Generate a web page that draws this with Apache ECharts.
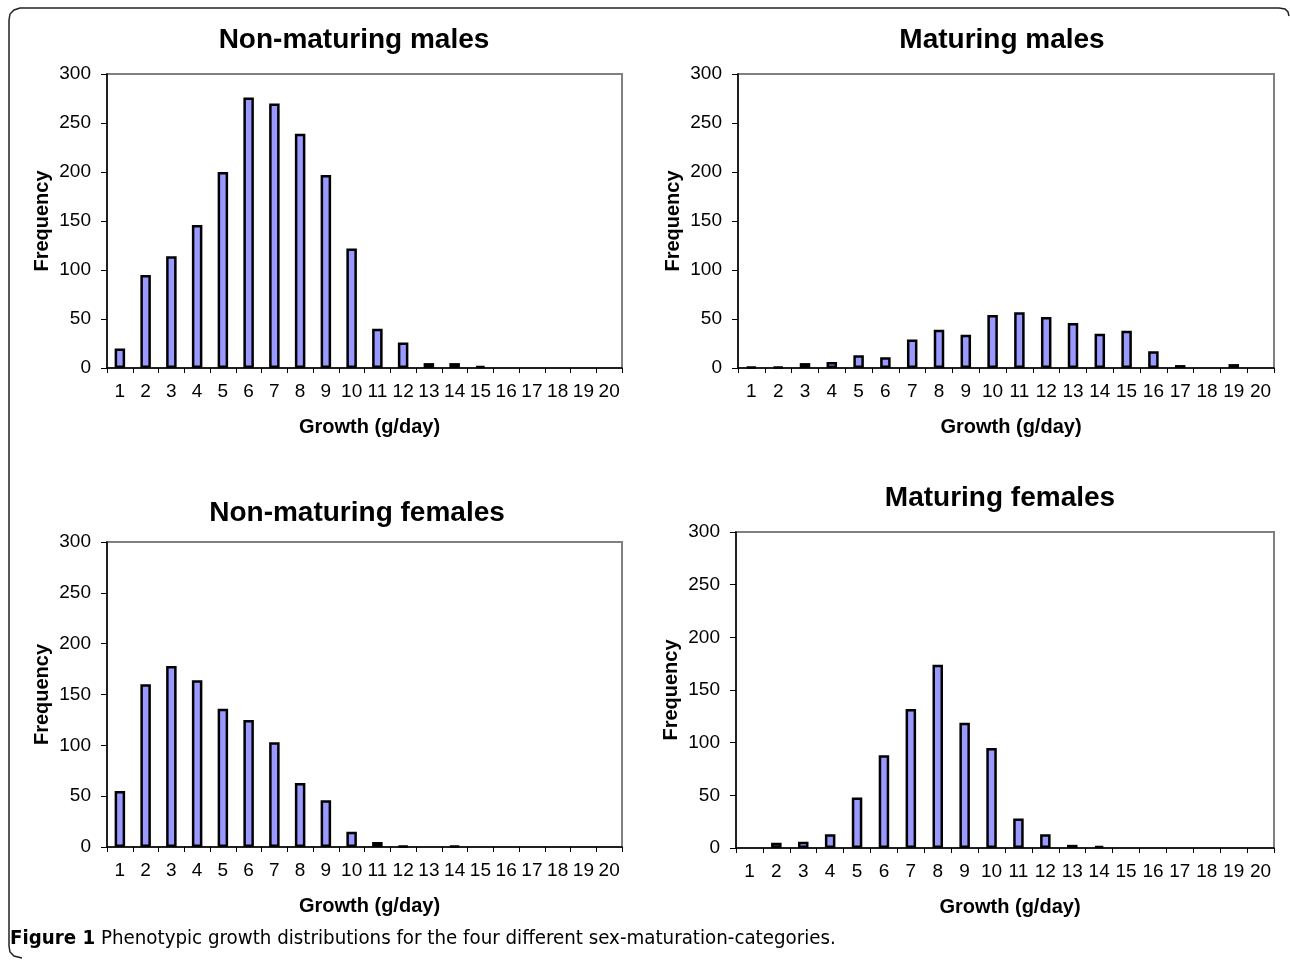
<!DOCTYPE html>
<html>
<head>
<meta charset="utf-8">
<script src="https://cdn.jsdelivr.net/npm/echarts@6/dist/echarts.min.js"></script>
<style>
html, body { margin: 0; background: #fff; }
#chart { width: 1290px; height: 964px; }
</style>
</head>
<body>
<div id="chart"></div>
<script>
// growth classes (g/day)
var growthBins = ['1','2','3','4','5','6','7','8','9','10','11','12','13','14','15','16','17','18','19','20'];
var yTicks = [0, 50, 100, 150, 200, 250, 300];

// frequency per growth class
var nonMaturingMales   = [20, 95, 114, 146, 200, 276, 270, 239, 197, 122, 40, 26, 5, 5, 2, 0, 0, 0, 0, 0];
var maturingMales      = [1, 1, 5, 6, 13, 11, 29, 39, 34, 54, 57, 52, 46, 35, 38, 17, 3, 0, 4, 0];
var nonMaturingFemales = [55, 160, 178, 164, 136, 125, 103, 63, 46, 15, 5, 1, 0, 1, 0, 0, 0, 0, 0, 0];
var maturingFemales    = [0, 5, 6, 13, 48, 88, 132, 174, 119, 95, 28, 13, 3, 2, 0, 0, 0, 0, 0, 0];

var panelTitles = ['Non-maturing males', 'Maturing males', 'Non-maturing females', 'Maturing females'];
var xName = 'Growth (g/day)';
var yName = 'Frequency';
var caption = 'Phenotypic growth distributions for the four different sex-maturation-categories.';

var FONT = '"Liberation Sans", Arial, Helvetica, sans-serif';
var CAPTION_FONT = '"DejaVu Sans Condensed", "Liberation Sans", Arial, sans-serif';

var panels = [
    {data: nonMaturingMales,   grid: {left: 107, top: 74,  width: 515, height: 294}, title: [354, 40]},
    {data: maturingMales,      grid: {left: 738, top: 74,  width: 536, height: 294}, title: [1002, 40]},
    {data: nonMaturingFemales, grid: {left: 107, top: 542, width: 515, height: 305}, title: [357, 513]},
    {data: maturingFemales,    grid: {left: 736, top: 532, width: 538, height: 316}, title: [1000, 498]}
];

var grids = [], xAxes = [], yAxes = [], series = [], graphics = [];

for (var i = 0; i < panels.length; i++) {
    var p = panels[i];
    grids.push({
        left: p.grid.left, top: p.grid.top, width: p.grid.width, height: p.grid.height,
        show: true, borderColor: '#808080', borderWidth: 2, backgroundColor: 'transparent'
    });
    xAxes.push({
        gridIndex: i,
        type: 'category',
        data: growthBins,
        boundaryGap: true,
        axisLine: {show: true, lineStyle: {color: '#000', width: 1.5}},
        axisTick: {show: true, interval: 0, length: 5, lineStyle: {color: '#000', width: 1}},
        axisLabel: {interval: 0, fontSize: 19, color: '#000', margin: 14, fontFamily: FONT},
        splitLine: {show: false},
        name: xName,
        nameLocation: 'middle',
        nameGap: 49,
        nameTextStyle: {fontSize: 20, fontWeight: 'bold', color: '#000', fontFamily: FONT, padding: [0, 0, 0, 10]}
    });
    yAxes.push({
        gridIndex: i,
        type: 'value',
        min: yTicks[0],
        max: yTicks[yTicks.length - 1],
        interval: yTicks[1] - yTicks[0],
        axisLine: {show: true, lineStyle: {color: '#000', width: 1.5}},
        axisTick: {show: true, length: 6, lineStyle: {color: '#000', width: 1}},
        axisLabel: {fontSize: 19, color: '#000', margin: 16, fontFamily: FONT},
        splitLine: {show: false},
        name: yName,
        nameLocation: 'middle',
        nameGap: 55,
        nameRotate: 90,
        nameTextStyle: {fontSize: 20, fontWeight: 'bold', color: '#000', fontFamily: FONT}
    });
    // empty classes get no outline, so nothing shows on the axis
    var barData = p.data.map(function(v) {
        return v === 0 ? {value: v, itemStyle: {borderWidth: 0}} : v;
    });
    series.push({
        type: 'bar',
        xAxisIndex: i,
        yAxisIndex: i,
        data: barData,
        barWidth: 10.5,
        itemStyle: {color: '#9999ff', borderColor: '#000', borderWidth: 2.5},
        emphasis: {disabled: true}
    });
    graphics.push({
        type: 'text',
        x: p.title[0],
        y: p.title[1],
        style: {
            text: panelTitles[i],
            font: 'bold 28px ' + FONT,
            fill: '#000',
            align: 'center',
            verticalAlign: 'middle'
        }
    });
}

// figure caption
graphics.push({
    type: 'text',
    x: 10,
    y: 939,
    style: {
        text: '{b|Figure 1} ' + caption,
        fontFamily: CAPTION_FONT,
        fontSize: 20.3,
        fill: '#000',
        verticalAlign: 'middle',
        rich: {b: {fontWeight: 'bold', fontSize: 20.3, fontFamily: CAPTION_FONT}}
    }
});

// frame round the figure (open at the bottom right like the scan)
graphics.push({
    type: 'polyline',
    shape: {points: [[22, 958], [14, 956], [10, 952], [9, 946], [9, 20], [10, 14], [14, 10], [20, 8], [1279, 8], [1285, 9], [1288, 12], [1289, 16]]},
    style: {stroke: '#222', lineWidth: 1.5, fill: null}
});

var myChart = echarts.init(document.getElementById('chart'));
myChart.setOption({
    animation: false,
    backgroundColor: '#fff',
    textStyle: {fontFamily: FONT},
    grid: grids,
    xAxis: xAxes,
    yAxis: yAxes,
    series: series,
    graphic: graphics
});
</script>
</body>
</html>
